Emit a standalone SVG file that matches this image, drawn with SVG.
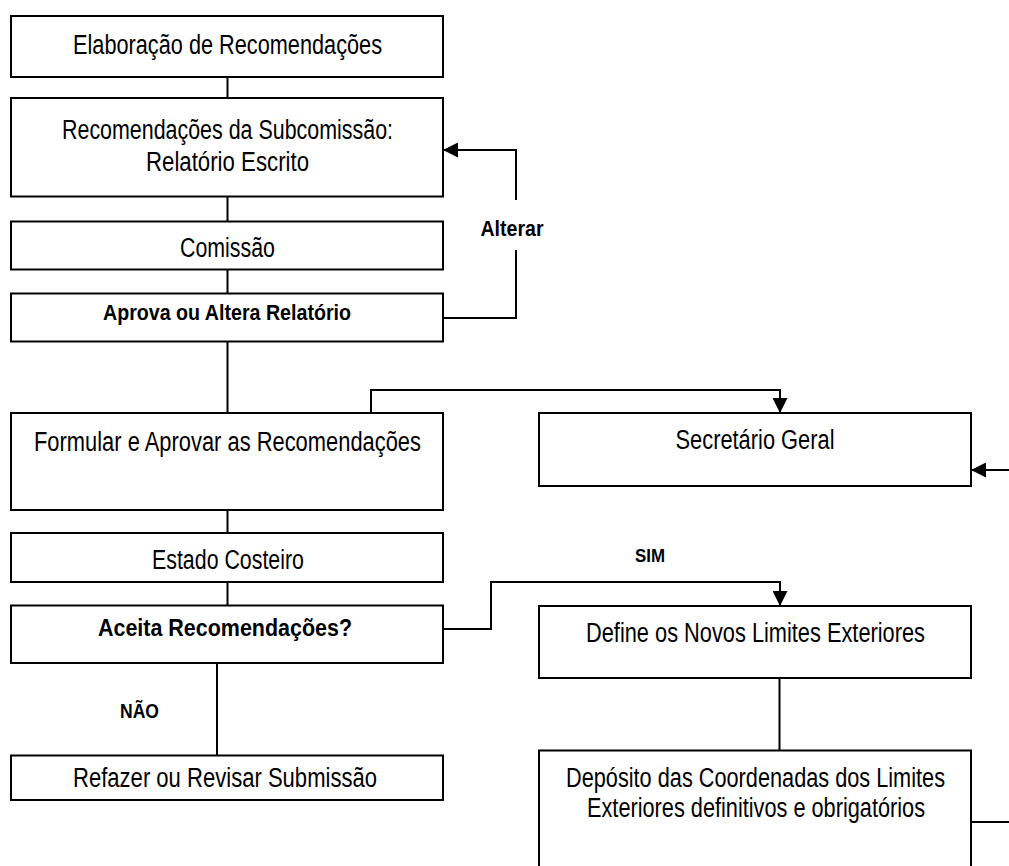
<svg xmlns="http://www.w3.org/2000/svg" width="1009" height="866" viewBox="0 0 1009 866">
  <defs>
    <style>
      .box { fill: #ffffff; stroke: #000000; stroke-width: 2; }
      .wire { fill: none; stroke: #000000; stroke-width: 2; }
      .t { font-family: "Liberation Sans Narrow", "Liberation Sans", Arial, sans-serif; font-size: 27px; text-anchor: middle; fill: #000000; }
      .b { font-family: "Liberation Sans Narrow", "Liberation Sans", Arial, sans-serif; font-weight: bold; text-anchor: middle; fill: #000000; }
    </style>
    <marker id="arrow" viewBox="0 0 15 15" refX="15" refY="7.5" markerWidth="15" markerHeight="15" markerUnits="userSpaceOnUse" orient="auto">
      <path d="M0,0 L15,7.5 L0,15 Z" fill="#000000"/>
    </marker>
  </defs>

  <rect width="1009" height="866" fill="#ffffff"/>

  <!-- connectors -->
  <g id="connectors">
    <line class="wire" x1="227.5" y1="77" x2="227.5" y2="98"/>
    <line class="wire" x1="227.5" y1="196.5" x2="227.5" y2="221.5"/>
    <line class="wire" x1="227.5" y1="269.5" x2="227.5" y2="293.5"/>
    <line class="wire" x1="227.5" y1="341.5" x2="227.5" y2="413"/>
    <line class="wire" x1="227.5" y1="510" x2="227.5" y2="533"/>
    <line class="wire" x1="227.5" y1="582" x2="227.5" y2="605.5"/>
    <!-- Alterar loop back to the written report -->
    <polyline class="wire" points="443,318 516,318 516,250"/>
    <polyline class="wire" points="516,200 516,150 443,150" marker-end="url(#arrow)"/>
    <!-- to the Secretary-General -->
    <polyline class="wire" points="371,413 371,390 780,390 780,413" marker-end="url(#arrow)"/>
    <line class="wire" x1="1009" y1="470" x2="971" y2="470" marker-end="url(#arrow)"/>
    <!-- SIM branch -->
    <polyline class="wire" points="443,629 491,629 491,582 780,582 780,606" marker-end="url(#arrow)"/>
    <!-- NAO branch -->
    <line class="wire" x1="217" y1="663" x2="217" y2="755.5"/>
    <line class="wire" x1="779.5" y1="678" x2="779.5" y2="750.5"/>
    <line class="wire" x1="971" y1="822" x2="1009" y2="822"/>
  </g>

  <!-- branch labels -->
  <g id="labels">
    <text class="b" x="512" y="236" font-size="22" textLength="63" lengthAdjust="spacingAndGlyphs">Alterar</text>
    <text class="b" x="650" y="562" font-size="19" textLength="30" lengthAdjust="spacingAndGlyphs">SIM</text>
    <text class="b" x="139.5" y="718" font-size="19.5" textLength="39" lengthAdjust="spacingAndGlyphs">NÃO</text>
  </g>

  <g id="n-elaboracao">
    <rect class="box" x="11" y="16" width="432" height="61"/>
    <text class="t" x="227.5" y="54" textLength="309" lengthAdjust="spacingAndGlyphs">Elaboração de Recomendações</text>
  </g>

  <g id="n-relatorio">
    <rect class="box" x="11" y="98" width="432" height="98.5"/>
    <text class="t" x="227.5" y="139" textLength="331" lengthAdjust="spacingAndGlyphs">Recomendações da Subcomissão:</text>
    <text class="t" x="227.5" y="171" textLength="163" lengthAdjust="spacingAndGlyphs">Relatório Escrito</text>
  </g>

  <g id="n-comissao">
    <rect class="box" x="11" y="221.5" width="432" height="48"/>
    <text class="t" x="227.5" y="257" textLength="95" lengthAdjust="spacingAndGlyphs">Comissão</text>
  </g>

  <g id="n-aprova">
    <rect class="box" x="11" y="293.5" width="432" height="48"/>
    <text class="b" x="227" y="320" font-size="22" textLength="248" lengthAdjust="spacingAndGlyphs">Aprova ou Altera Relatório</text>
  </g>

  <g id="n-formular">
    <rect class="box" x="11" y="413" width="432" height="97"/>
    <text class="t" x="227.5" y="451" textLength="387" lengthAdjust="spacingAndGlyphs">Formular e Aprovar as Recomendações</text>
  </g>

  <g id="n-estado">
    <rect class="box" x="11" y="533" width="432" height="49"/>
    <text class="t" x="228" y="569" textLength="152" lengthAdjust="spacingAndGlyphs">Estado Costeiro</text>
  </g>

  <g id="n-aceita">
    <rect class="box" x="11" y="605.5" width="432" height="57.5"/>
    <text class="b" x="225" y="636" font-size="24" textLength="254" lengthAdjust="spacingAndGlyphs">Aceita Recomendações?</text>
  </g>

  <g id="n-refazer">
    <rect class="box" x="11" y="755.5" width="432" height="44.5"/>
    <text class="t" x="225" y="787" textLength="304" lengthAdjust="spacingAndGlyphs">Refazer ou Revisar Submissão</text>
  </g>

  <g id="n-secretario">
    <rect class="box" x="539" y="413" width="432" height="73"/>
    <text class="t" x="755" y="449" textLength="159" lengthAdjust="spacingAndGlyphs">Secretário Geral</text>
  </g>

  <g id="n-define">
    <rect class="box" x="539" y="606" width="432" height="72"/>
    <text class="t" x="755.5" y="642" textLength="339" lengthAdjust="spacingAndGlyphs">Define os Novos Limites Exteriores</text>
  </g>

  <!-- this box runs past the bottom edge, so only its top and sides are drawn -->
  <g id="n-deposito">
    <path class="box" d="M539,866 L539,750.5 L971,750.5 L971,866"/>
    <text class="t" x="755.5" y="787" textLength="379" lengthAdjust="spacingAndGlyphs">Depósito das Coordenadas dos Limites</text>
    <text class="t" x="756" y="817" textLength="338" lengthAdjust="spacingAndGlyphs">Exteriores definitivos e obrigatórios</text>
  </g>
</svg>
